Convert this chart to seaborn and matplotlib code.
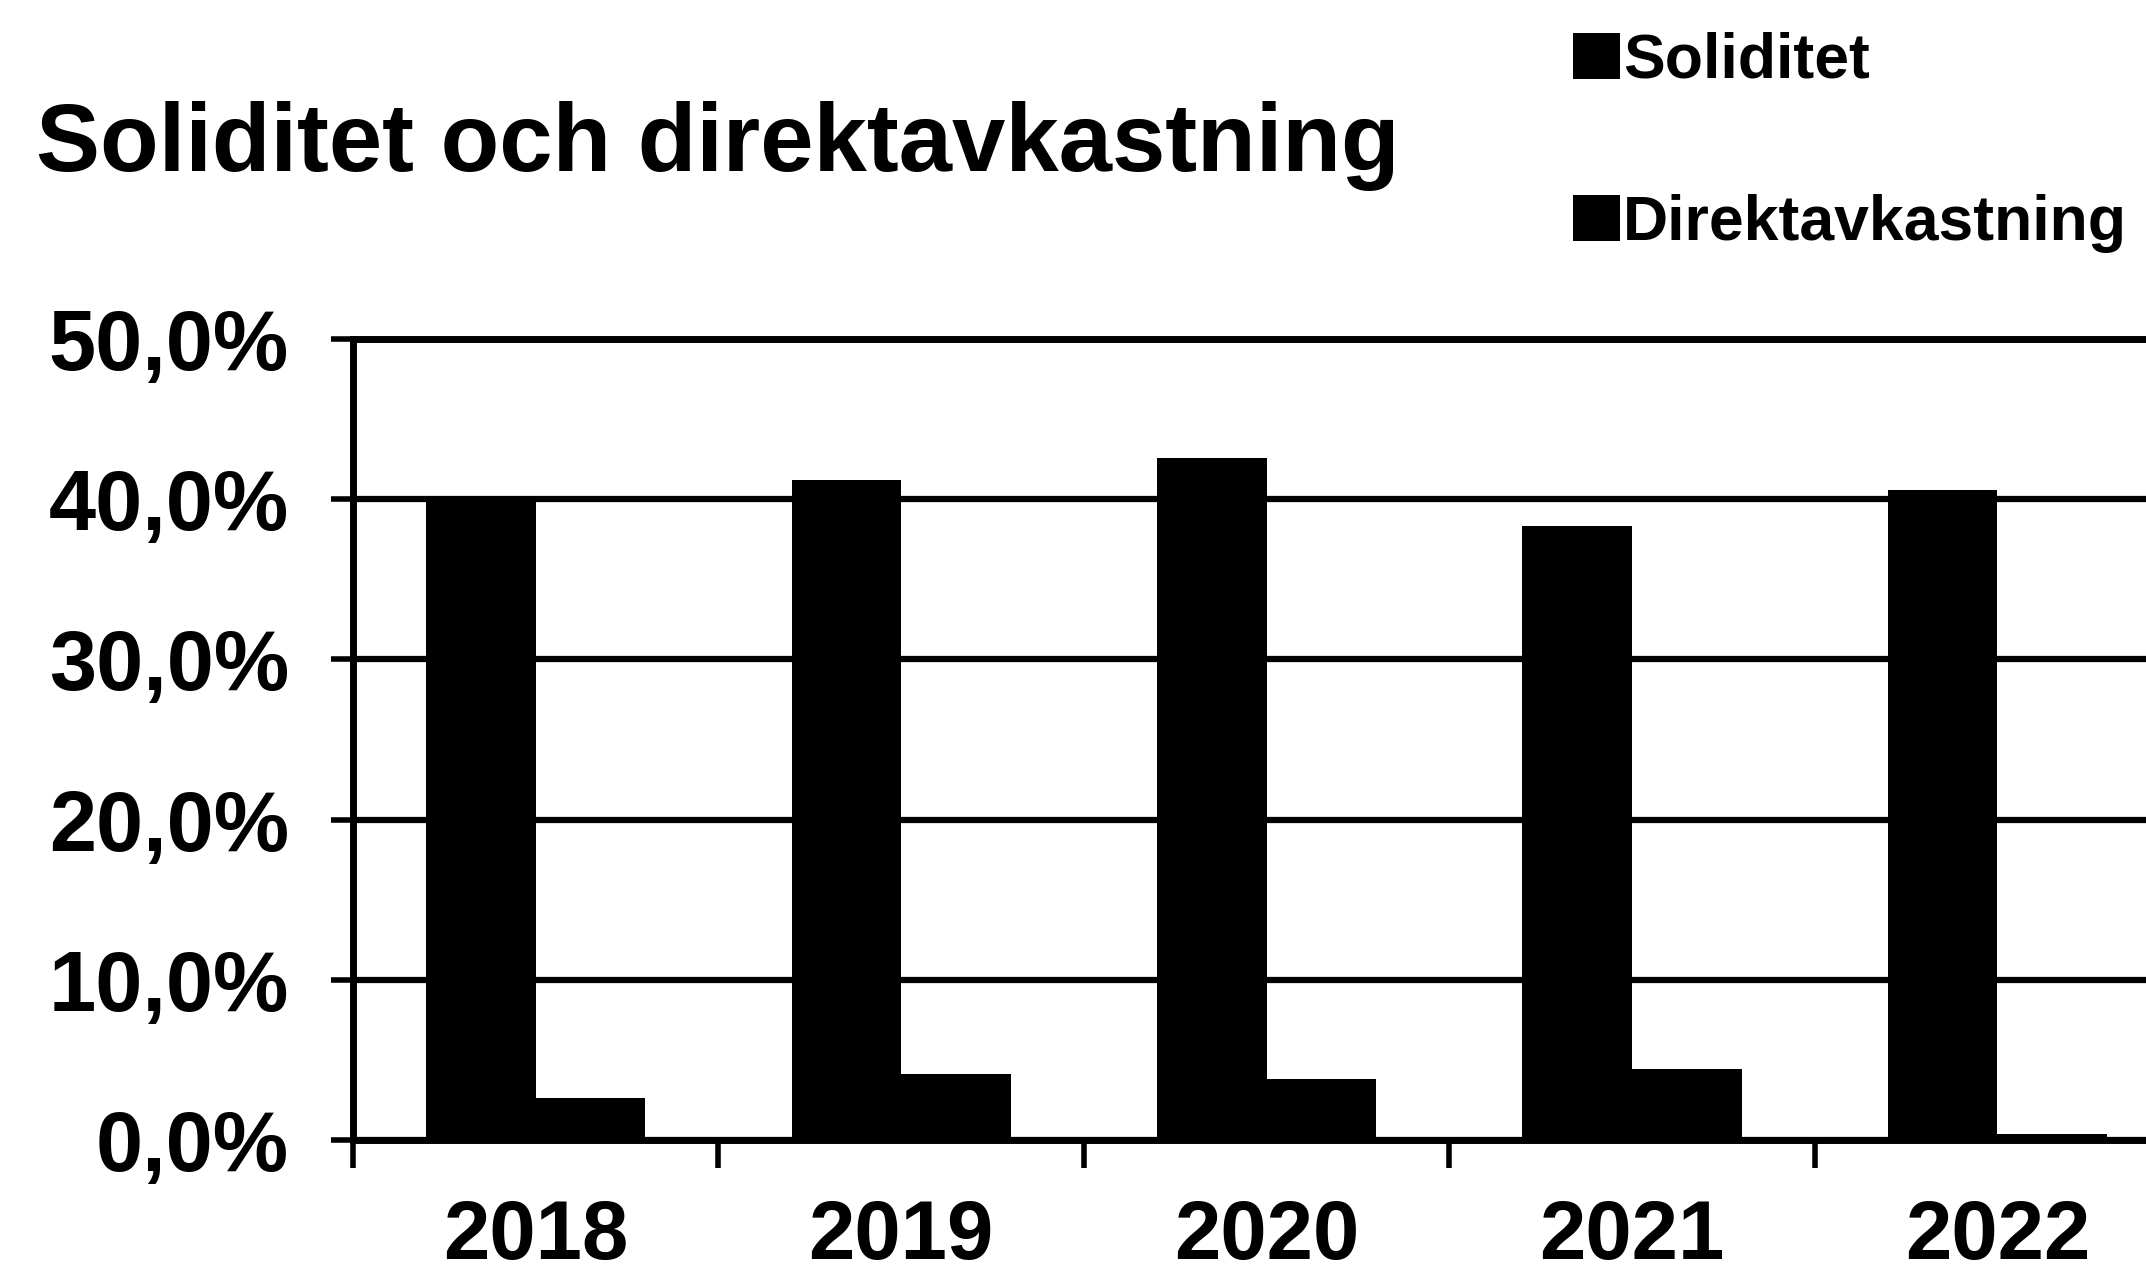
import pandas as pd
import numpy as np
import matplotlib
matplotlib.use("Agg")
import matplotlib.pyplot as plt
from matplotlib.ticker import FuncFormatter, FixedLocator
import seaborn as sns

# Values
years = ["2018", "2019", "2020", "2021", "2022"]
soliditet = [0.400, 0.412, 0.426, 0.383, 0.406]
direktavkastning = [0.026, 0.041, 0.038, 0.044, 0.004]
series_names = ["Soliditet", "Direktavkastning"]
y_ticks = [0.0, 0.1, 0.2, 0.3, 0.4, 0.5]

df = pd.DataFrame({
    "year": years * 2,
    "value": soliditet + direktavkastning,
    "serie": [series_names[0]] * len(years) + [series_names[1]] * len(years),
})

sns.set_style("white")
plt.rcParams["font.family"] = ["Liberation Sans", "DejaVu Sans"]
plt.rcParams["font.weight"] = "bold"
plt.rcParams["text.color"] = "black"
plt.rcParams["xtick.color"] = "black"
plt.rcParams["ytick.color"] = "black"

fig = plt.figure(figsize=(21.46, 12.73), dpi=100)
ax = fig.add_axes([0.1645, 0.1045, 0.8514, 0.6292])

sns.barplot(data=df, x="year", y="value", hue="serie", palette=["black", "black"],
            width=0.6, saturation=1, linewidth=0, ax=ax, zorder=3)

ax.set_ylim(0, 0.5)
ax.set_xlim(-0.5, len(years) - 0.5)
ax.set_yticks(y_ticks)
ax.yaxis.set_major_formatter(FuncFormatter(lambda v, p: f"{v * 100:.1f}%".replace(".", ",")))
ax.grid(axis="y", color="black", linewidth=4.5, zorder=1)
ax.set_axisbelow(True)

# category boundary ticks on x, labels at centres without ticks
ax.xaxis.set_minor_locator(FixedLocator(np.arange(-0.5, len(years), 1.0)))
ax.tick_params(axis="x", which="major", bottom=True, length=0, pad=42, labelsize=60,
               labelcolor="black")
ax.tick_params(axis="x", which="minor", bottom=True, length=20, width=4, color="black",
               direction="out")
ax.tick_params(axis="y", left=True, length=16, width=4, color="black", direction="out",
               pad=30, labelsize=61, labelcolor="black")
ax.set_xlabel("")
ax.set_ylabel("")

for side in ["left", "top", "bottom"]:
    ax.spines[side].set_color("black")
    ax.spines[side].set_linewidth(5)
ax.spines["right"].set_visible(False)

handles, labels = ax.get_legend_handles_labels()
ax.get_legend().remove()
fig.legend(handles, labels, loc="upper left", bbox_to_anchor=(0.733, 0.975),
           frameon=False, fontsize=45, handlelength=0.75, handleheight=0.75,
           handletextpad=0.05, labelspacing=1.65, borderpad=0, borderaxespad=0)

fig.text(0.017, 0.8657, "Soliditet och direktavkastning", fontsize=69,
         fontweight="bold", ha="left", va="baseline")

fig.savefig("out.png", dpi=100)
